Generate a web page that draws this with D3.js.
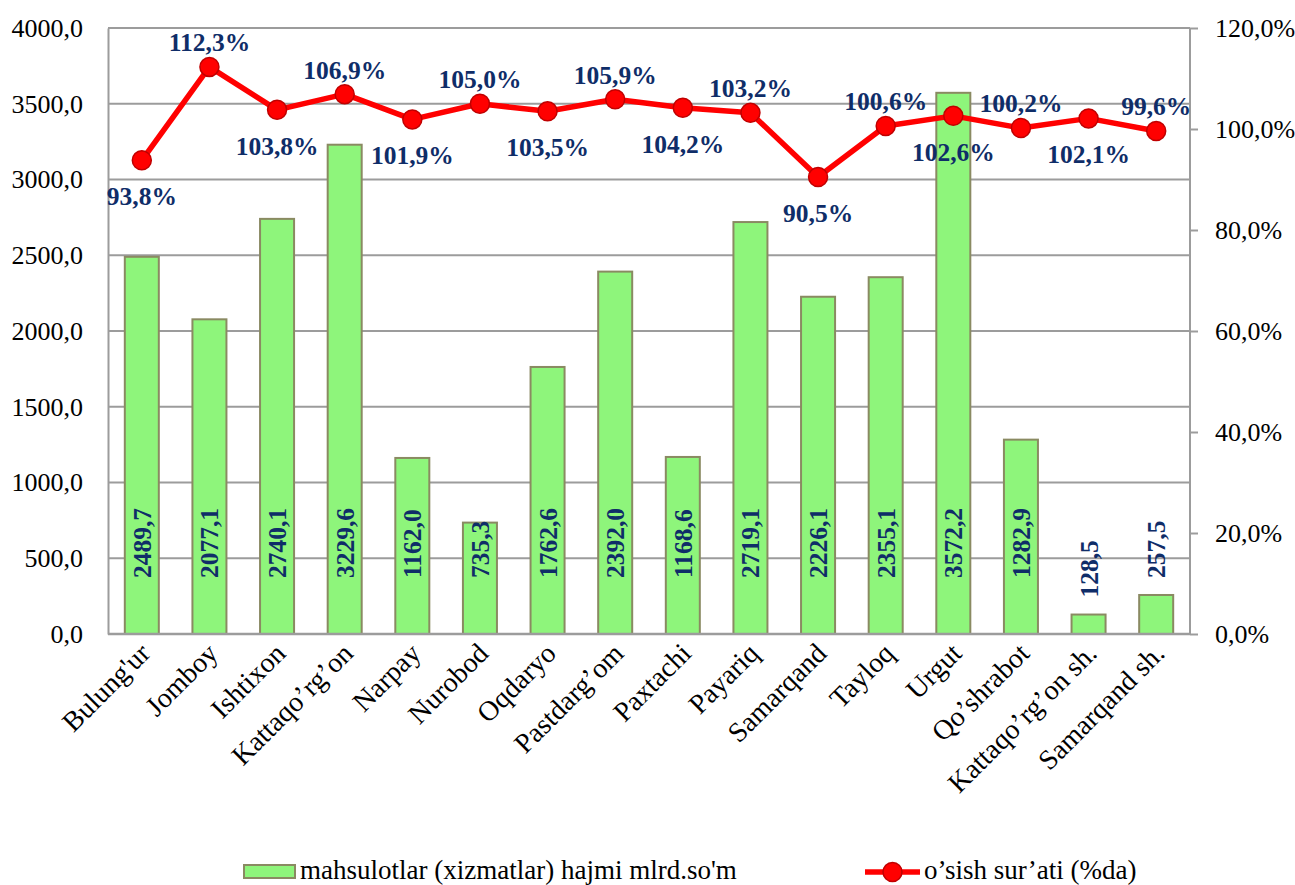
<!DOCTYPE html>
<html>
<head>
<meta charset="utf-8">
<script src="https://cdn.jsdelivr.net/npm/d3@7"></script>
<style>
  html, body { margin: 0; padding: 0; background: #fff; }
  svg { display: block; }
  svg text { font-family: "Liberation Serif", "Times New Roman", Tinos, Times, "DejaVu Serif", serif !important; }
</style>
</head>
<body>
<svg id="chart" width="1295" height="885"></svg>
<script>
const categories = ["Bulung'ur", "Jomboy", "Ishtixon", "Kattaqo’rg’on", "Narpay", "Nurobod", "Oqdaryo", "Pastdarg’om", "Paxtachi", "Payariq", "Samarqand", "Tayloq", "Urgut", "Qo’shrabot", "Kattaqo’rg’on sh.", "Samarqand sh."];
const volume = [2489.7, 2077.1, 2740.1, 3229.6, 1162.0, 735.3, 1762.6, 2392.0, 1168.6, 2719.1, 2226.1, 2355.1, 3572.2, 1282.9, 128.5, 257.5];
const growth = [93.8, 112.3, 103.8, 106.9, 101.9, 105.0, 103.5, 105.9, 104.2, 103.2, 90.5, 100.6, 102.6, 100.2, 102.1, 99.6];
const leftTicks = [0, 500, 1000, 1500, 2000, 2500, 3000, 3500, 4000];
const rightTicks = [0, 20, 40, 60, 80, 100, 120];
const seriesNames = ["mahsulotlar (xizmatlar) hajmi mlrd.so'm", "o’sish sur’ati (%da)"];

const svg = d3.select("#chart");
const L = 108, R = 1190, T = 28, B = 634;
const fmt1 = v => d3.format(".1f")(v).replace(".", ",");

const x = d3.scaleBand().domain(categories).range([L, R]).paddingInner(0.497).paddingOuter(0.2485);
const y = d3.scaleLinear().domain([0, 4000]).range([B, T]);
const y2 = d3.scaleLinear().domain([0, 120]).range([B, T]);

const gridColor = "#9c9c9c";
const labelColor = "#0f2d68";

// gridlines
svg.append("g").selectAll("line").data(leftTicks).join("line")
  .attr("x1", L).attr("x2", R)
  .attr("y1", d => y(d)).attr("y2", d => y(d))
  .attr("stroke", gridColor).attr("stroke-width", 2);

// left axis labels
const leftAxis = d3.axisLeft(y).tickValues(leftTicks).tickSize(0).tickPadding(25).tickFormat(fmt1);
const gl = svg.append("g").attr("transform", `translate(${L},0)`).call(leftAxis);
gl.attr("font-family", null);
gl.select(".domain").attr("stroke", gridColor).attr("stroke-width", 2);
gl.selectAll("text").attr("font-size", 26).attr("fill", "#000");

// right axis
const rightAxis = d3.axisRight(y2).tickValues(rightTicks).tickSize(8).tickPadding(17).tickFormat(d => fmt1(d) + "%");
const gr = svg.append("g").attr("transform", `translate(${R},0)`).call(rightAxis);
gr.attr("font-family", null);
gr.select(".domain").attr("stroke", gridColor).attr("stroke-width", 2).attr("d", `M0,${B}V${T}`);
gr.selectAll(".tick line").attr("stroke", gridColor).attr("stroke-width", 2);
gr.selectAll("text").attr("font-size", 26).attr("fill", "#000");

// bars
svg.append("g").selectAll("rect").data(volume).join("rect")
  .attr("x", (d, i) => x(categories[i]))
  .attr("y", d => y(d))
  .attr("width", x.bandwidth())
  .attr("height", d => B - y(d))
  .attr("fill", "#8ef57b")
  .attr("stroke", "#8a8a62")
  .attr("stroke-width", 2);

// bottom axis line
svg.append("line").attr("x1", L).attr("x2", R).attr("y1", B).attr("y2", B)
  .attr("stroke", gridColor).attr("stroke-width", 2.5);

// bar labels
const barLabels = svg.append("g");
volume.forEach((v, i) => {
  const cx = x(categories[i]) + x.bandwidth() / 2;
  const t = barLabels.append("text")
    .attr("font-size", 25.5).attr("font-weight", "bold").attr("fill", labelColor)
    .attr("text-anchor", "start").attr("dy", "0.35em")
    .text(fmt1(v));
  const len = t.node().getComputedTextLength();
  const h = B - y(v);
  const startY = (h < len) ? y(v) - 17 : B - 56;
  t.attr("transform", `translate(${cx},${startY}) rotate(-90)`);
});

// category labels
svg.append("g").selectAll("text").data(categories).join("text")
  .attr("transform", d => `translate(${x(d) + x.bandwidth() / 2 + 10},${B + 21}) rotate(-45)`)
  .attr("text-anchor", "end")
  .attr("font-size", 28)
  .attr("fill", "#000")
  .text(d => d);

// line
const line = d3.line().x((d, i) => x(categories[i]) + x.bandwidth() / 2).y(d => y2(d));
svg.append("path").datum(growth).attr("d", line)
  .attr("fill", "none").attr("stroke", "#ff0000").attr("stroke-width", 5.5).attr("stroke-linejoin", "round");
svg.append("g").selectAll("circle").data(growth).join("circle")
  .attr("cx", (d, i) => x(categories[i]) + x.bandwidth() / 2)
  .attr("cy", d => y2(d))
  .attr("r", 9.5)
  .attr("fill", "#ff0000").attr("stroke", "#c00000").attr("stroke-width", 1.5);

// line labels (alternating below / above)
svg.append("g").selectAll("text").data(growth).join("text")
  .attr("x", (d, i) => x(categories[i]) + x.bandwidth() / 2)
  .attr("y", (d, i) => y2(d) + (i % 2 === 0 ? 36 : -24.5))
  .attr("dy", "0.35em")
  .attr("text-anchor", "middle")
  .attr("font-size", 25.5).attr("font-weight", "bold").attr("fill", labelColor)
  .text(d => fmt1(d) + "%");

// legend
const lg = svg.append("g");
lg.append("rect").attr("x", 244).attr("y", 865).attr("width", 51).attr("height", 13)
  .attr("fill", "#8ef57b").attr("stroke", "#8a8a62").attr("stroke-width", 2);
lg.append("text").attr("x", 300).attr("y", 879).attr("font-size", 27).attr("fill", "#000").text(seriesNames[0]);
lg.append("line").attr("x1", 865).attr("x2", 920).attr("y1", 872).attr("y2", 872)
  .attr("stroke", "#ff0000").attr("stroke-width", 5.5);
lg.append("circle").attr("cx", 892.5).attr("cy", 872).attr("r", 9.5)
  .attr("fill", "#ff0000").attr("stroke", "#c00000").attr("stroke-width", 1.5);
lg.append("text").attr("x", 924).attr("y", 879).attr("font-size", 27).attr("fill", "#000").text(seriesNames[1]);
</script>
</body>
</html>
